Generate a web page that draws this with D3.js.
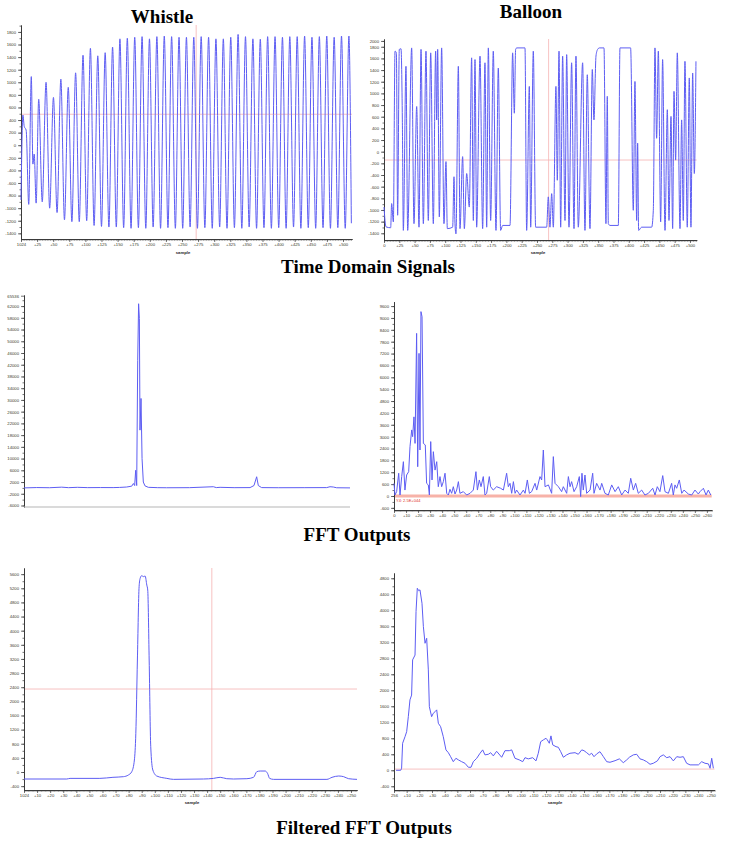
<!DOCTYPE html>
<html><head><meta charset="utf-8">
<script src="https://cdn.jsdelivr.net/npm/d3@7/dist/d3.min.js"></script>
<style>body{margin:0;background:#fff}svg{display:block}</style>
</head><body><svg id="c" width="730" height="856"></svg>
<script>
// ---------------- DATA ----------------
const titles = ["Whistle", "Balloon"];
const rowTitles = ["Time Domain Signals", "FFT Outputs", "Filtered FFT Outputs"];

// time-domain: [sample, amplitude] turning points
const whistleTime = [[0,-870],[3,480],[5,300],[8,240],[12,-940],[16,1090],[18.5,-300],[20.5,-140],[23.5,-920],[27.5,730],[33,-900],[38.9,1000],[44.5,-1000],[50.4,760],[56,-1070],[61.9,1050],[67.5,-1185],[73.4,920],[79,-1215],[84.8,1150],[90.5,-1215],[96.3,1430],[102,-1200],[107.8,1540],[113.5,-1275],[119.2,1420],[125,-1290],[130.7,1470],[136.5,-1300],[142.2,1560],[148,-1300],[153.6,1690],[159.4,-1310],[165.1,1700],[170.9,-1320],[176.6,1715],[182.3,-1310],[188,1725],[193.8,-1320],[199.5,1690],[205.2,-1300],[211,1725],[216.7,-1320],[222.5,1735],[228.2,-1310],[233.9,1725],[239.7,-1320],[245.4,1715],[251.1,-1320],[256.9,1715],[262.6,-1300],[268.3,1715],[274,-1320],[279.8,1725],[285.5,-1310],[291.3,1715],[297,-1320],[302.7,1690],[308.5,-1300],[314.2,1690],[319.9,-1320],[325.7,1715],[331.4,-1310],[337.1,1760],[342.9,-1320],[348.6,1725],[354.3,-1300],[360.1,1690],[365.8,-1320],[371.6,1685],[377.3,-1310],[383,1725],[388.8,-1320],[394.5,1725],[400.2,-1310],[406,1715],[411.7,-1320],[417.4,1725],[423.2,-1300],[428.9,1725],[434.6,-1320],[440.4,1735],[446.1,-1310],[451.8,1715],[457.6,-1320],[463.3,1725],[469,-1310],[474.8,1735],[480.5,-1320],[486.3,1715],[492,-1310],[497.7,1735],[503.5,-1320],[509.2,1735],[513,-1240]];

const balloonTime = [[0,-950],[3.3,-1290],[10.9,-1305],[12.5,-890],[15.3,-1205],[18,1725],[20.2,1695],[22.3,-1090],[25,1755],[27.8,1765],[30,545],[31.6,-1350],[35.9,1465],[38.7,-1350],[45.2,1780],[49,-1235],[53.4,775],[57.2,-1295],[60.5,1755],[64.3,-1235],[68.6,1725],[72.4,-1180],[76.3,1695],[80.6,-1235],[84.4,1725],[86.1,545],[87.7,1755],[90.4,-1120],[94.2,1780],[98,-1235],[101.3,-170],[103.5,-1320],[112.2,-1295],[114.4,-430],[116,-1235],[117.6,-1410],[121.5,1465],[124.2,-1320],[128.5,-85],[131.3,-1320],[135.1,-375],[139.4,-950],[143.2,1610],[146,-1180],[148.7,1580],[151.4,-1295],[156.9,1640],[161.2,-1320],[165,1525],[167.8,-1295],[170.5,1780],[174.3,-1180],[178.6,1725],[183,-1350],[186.8,1435],[190.6,-1350],[193.9,-1265],[205.9,-1265],[210.2,1695],[213,660],[215.1,1755],[216.8,1780],[230.4,1780],[233.1,-1350],[237.5,1120],[239.7,-1295],[244,1725],[247.8,-1295],[265.8,-1295],[268.5,-775],[271.2,-1295],[274,-720],[276.7,-1295],[281,1120],[283.2,-490],[286,1725],[288.7,-1295],[291.9,1640],[295.8,-1180],[298.5,1665],[302.3,-1295],[306.6,1525],[310.5,-1320],[313.7,1640],[317.5,-1295],[324.6,1525],[328.4,-1350],[332.2,1320],[336.6,-1320],[340.4,1410],[343.1,545],[346.4,1640],[349.1,1755],[351.9,1780],[359.5,1780],[362.7,-1235],[364.9,950],[366.6,-1235],[369.3,-1265],[382.9,-1265],[385.6,1780],[403,1780],[407.4,-1005],[410.1,1205],[412.9,-1180],[414.5,145],[416.1,-1350],[421,-1295],[437.4,-1295],[440.1,-1005],[442.8,1780],[445.5,230],[448.3,1725],[452.1,-1205],[455.3,1580],[459.2,-1350],[463,720],[465.7,-1180],[469,605],[471.7,-1320],[473.9,1035],[476.6,-145],[479.3,1695],[483.7,-1320],[486.4,545],[489.1,-1180],[491.8,1550],[495.6,-1295],[498.9,1265],[501.6,-1295],[504.4,1350],[507.1,-375],[509.8,1550]];

// FFT outputs: [bin, magnitude]
const whistleFFT = [[0,0],[10,120],[20,60],[29.6,250],[35,80],[41.9,200],[50,90],[60,120],[70,100],[75,160],[80.6,300],[84.6,600],[85.9,1500],[86.9,800],[87.7,6000],[88.5,800],[89.3,43500],[90,62800],[90.6,57800],[91.1,19700],[91.9,30500],[92.7,10000],[93.7,2000],[95,700],[97.6,200],[105,80],[112,50],[130,80],[148.7,400],[151,100],[154,200],[165,80],[177.5,100],[180.6,800],[182.7,3800],[184,800],[186.6,100],[200,60],[220,80],[237.7,100],[240.3,400],[242.9,300],[245.5,50],[256,0]];

const balloonFFT = [[0,640],[0.8,50],[2.2,220],[3.9,1150],[5,50],[6.4,980],[7.8,1735],[9.1,300],[10.5,1060],[12.2,1230],[13.3,2500],[14.7,3340],[15.5,3000],[16.6,4000],[17.5,2660],[18.8,8220],[19.7,1480],[20.8,7210],[21.6,2325],[22.4,9320],[23.3,9065],[24.4,2660],[26,2580],[27.1,640],[28.5,560],[29.4,50],[30.5,2750],[31.6,810],[32.7,2240],[34.1,1310],[35.5,1735],[36.8,470],[38.2,980],[39.6,470],[41,725],[42.4,1150],[43.8,135],[45.2,50],[46.5,340],[47.9,135],[49.3,470],[50.7,100],[52.1,300],[53.5,725],[54.8,135],[57.6,220],[60.4,50],[63.2,135],[65.9,300],[68.1,1230],[69.3,300],[70.9,810],[72.3,470],[74.2,980],[75.6,50],[77,135],[79.2,980],[80.3,470],[82.5,300],[85.3,470],[88.6,390],[90.9,300],[93.6,1150],[95,470],[96.4,640],[97.8,135],[99.2,725],[100.6,135],[101.9,300],[104.7,50],[107.5,300],[108.9,135],[110.8,810],[112.5,135],[114.4,220],[117.2,640],[118.6,300],[121.3,980],[122.7,810],[124.1,2325],[125.5,470],[128.3,560],[131,135],[132.4,1990],[133.8,640],[136.6,470],[139.3,220],[140.7,470],[143.5,135],[144.9,980],[146.3,470],[147.6,725],[149.6,220],[151.8,470],[154,980],[155.1,-30],[156.2,1150],[157.3,300],[158.7,1060],[160.1,135],[162.9,300],[165.1,1150],[166.2,135],[168.4,640],[171.2,300],[172.6,640],[175.3,135],[178.1,50],[180.9,560],[183.7,220],[186.4,470],[189.2,50],[192,300],[194.7,135],[196.7,895],[198.9,300],[200.8,640],[203,135],[205.8,300],[208.5,50],[211.4,135],[215,390],[216.9,50],[218.8,470],[221,220],[223.3,1030],[225.2,220],[228,135],[230.7,640],[232.1,50],[233.5,560],[234.9,390],[237.1,810],[239.1,135],[241,300],[244.6,100],[247.4,50],[250.1,300],[252.9,100],[254.3,220],[257.1,390],[259.3,50],[261.2,300],[263.2,50]];

// filtered FFT outputs: [bin, magnitude]
const whistleFiltered = [[0,-198],[32.7,-198],[35.2,-180],[58,-180],[68,-150],[76,-132],[79.8,-85],[82.4,10],[84.4,340],[85.5,1094],[86.7,3170],[88,5245],[88.8,5480],[90,5557],[91.3,5530],[92.6,5547],[93.9,5290],[94.6,5150],[95.7,3170],[96.9,717],[98.5,57],[101.5,-113],[109.2,-180],[114.3,-208],[137.2,-198],[144.9,-180],[150,-150],[155,-189],[160.2,-198],[170.4,-189],[175.5,-150],[178,10],[180.6,28],[184.4,28],[186.2,-38],[187.8,-180],[190.8,-208],[231.6,-208],[235.5,-150],[240.6,-113],[244.4,-132],[248.2,-189],[254.6,-208]];

const balloonFiltered = [[1.6,0],[5.3,0],[6,50],[6.8,675],[8.7,840],[10,965],[11.3,1340],[12.6,1760],[13.9,1880],[14.7,2760],[16.6,2880],[17.4,3970],[18.4,4550],[19.5,4490],[20.5,4510],[22.1,4175],[23.2,3590],[24.5,3175],[25.8,3300],[27.1,2510],[27.9,1590],[29.7,1340],[31,1425],[32.6,1470],[33.7,1510],[35,1175],[36.8,1090],[38.9,840],[41,510],[42.9,440],[44.7,340],[46.8,215],[48.9,300],[50.8,260],[53.4,215],[56,175],[58.7,75],[60.8,75],[62.6,215],[65.3,300],[67.9,425],[70,510],[71.8,385],[74.5,400],[76.3,440],[78.4,360],[81,475],[85,325],[87.6,490],[91,490],[92.9,510],[95.5,300],[98.9,260],[101.6,215],[103.4,315],[106,285],[109.5,315],[112.1,235],[113.9,425],[115.8,715],[117.9,760],[120,800],[121,760],[122.6,675],[123.9,860],[125.3,635],[127.9,590],[129.7,575],[131.6,465],[133.7,325],[136.3,385],[138.9,425],[142.9,440],[145.5,400],[148.2,510],[150,490],[152.1,440],[154.2,385],[156,425],[157.9,340],[160,410],[162.6,465],[165.3,340],[167.9,215],[170.5,200],[174.5,240],[177.9,285],[181,190],[183.7,260],[185.8,325],[188.9,385],[191.6,400],[194.2,285],[196.8,260],[199.5,215],[202.1,150],[204.7,175],[207.9,235],[210,340],[212.6,385],[215.3,315],[217.9,340],[220.5,235],[223.2,340],[225.8,325],[228.4,340],[231,175],[233.7,135],[240.3,135],[242.9,215],[245.5,175],[248.2,160],[249.5,50],[250.8,300],[252.1,50]];

// tick values / labels
const timeYTicks = [-1400,-1200,-1000,-800,-600,-400,-200,0,200,400,600,800,1000,1200,1400,1600,1800];
const timeXTicks = [0,25,50,75,100,125,150,175,200,225,250,275,300,325,350,375,400,425,450,475,500];
const whistleFFTYTicks = [-6000,-2000,2000,6000,10000,14000,18000,22000,26000,30000,34000,38000,42000,46000,50000,54000,58000,62000,65536];
const balloonFFTYTicks = [-600,0,600,1200,1800,2400,3000,3600,4200,4800,5400,6000,6600,7200,7800,8400,9000,9600];
const balloonFFTXTicks = [0,10,20,30,40,50,60,70,80,90,100,110,120,130,140,150,160,170,180,190,200,210,220,230,240,250,260];
const whistleFiltYTicks = [-400,0,400,800,1200,1600,2000,2400,2800,3200,3600,4000,4400,4800,5200,5600];
const filtXTicks = [0,10,20,30,40,50,60,70,80,90,100,110,120,130,140,150,160,170,180,190,200,210,220,230,240,250];
const balloonFiltYTicks = [-400,0,400,800,1200,1600,2000,2400,2800,3200,3600,4000,4400,4800];

// cursor lines
const whistleCursor = {h: 492, v: 272};
const balloonCursor = {h: -143, v: 269};
const whistleFiltCursor = {h: 2349, v: 143.6};
const balloonFFTMarker = 0;
const balloonFiltMarker = 30;

// ---------------- DRAW ----------------
const svg = d3.select('#c');
const LINE = '#5d5df3';
const CURSOR = '#f5b3b3';
const FS = '4.2px';

function styleAxis(sel){
  sel.select('.domain').attr('stroke','#3a3a3a').attr('stroke-width',1);
  sel.selectAll('.tick line').attr('stroke','#3a3a3a').attr('stroke-width',0.7);
  sel.selectAll('.tick text').attr('fill','#3a3a2a').attr('font-size',FS)
    .attr('font-family','Liberation Sans, Arial, sans-serif');
}

function panel(o){
  const g = svg.append('g');
  const x = d3.scaleLinear().domain(o.xd).range(o.xr);
  const y = d3.scaleLinear().domain(o.yd).range(o.yr);

  if (o.hLine != null) g.append('line').attr('x1', o.xr[0]).attr('x2', o.xr[1])
    .attr('y1', y(o.hLine)).attr('y2', y(o.hLine))
    .attr('stroke', o.hColor || CURSOR).attr('stroke-width', o.hWidth || 0.8);
  if (o.vLine != null) g.append('line').attr('x1', x(o.vLine)).attr('x2', x(o.vLine))
    .attr('y1', o.yr[1]).attr('y2', o.yr[0]).attr('stroke', CURSOR).attr('stroke-width', 0.8);

  // y minor ticks
  const ys = o.yTicks;
  const step = ys[2]-ys[1];
  const minor = [];
  for (let v = ys[1]-step; v <= o.yd[1]; v += step/2) if (v >= o.yd[0]) minor.push(v);
  g.append('g').attr('transform', `translate(${o.xr[0]},0)`)
    .call(d3.axisLeft(y).tickValues(minor).tickSize(1.5).tickSizeOuter(0).tickFormat(''))
    .call(styleAxis);
  g.append('g').attr('transform', `translate(${o.xr[0]},0)`)
    .call(d3.axisLeft(y).tickValues(o.yTicks).tickSize(3).tickSizeOuter(0).tickPadding(2)
      .tickFormat(o.yFmt || (d => d)))
    .call(styleAxis);

  if (o.xTicks){
    const xm = [];
    for (let v = o.xd[0]; v <= o.xd[1]; v += o.xMinorStep) xm.push(v);
    g.append('g').attr('transform', `translate(0,${o.yr[0]})`)
      .call(d3.axisBottom(x).tickValues(xm).tickSize(1.6).tickSizeOuter(0).tickFormat(''))
      .call(styleAxis);
    g.append('g').attr('transform', `translate(0,${o.yr[0]})`)
      .call(d3.axisBottom(x).tickValues(o.xTicks).tickSize(3).tickSizeOuter(0).tickPadding(1.5)
        .tickFormat(o.xFmt))
      .call(styleAxis);
    if (o.sampleLabel) g.append('text').attr('x', o.sampleLabel[0]).attr('y', o.sampleLabel[1])
      .attr('text-anchor','middle').attr('font-size',FS).attr('font-weight','bold')
      .attr('font-family','Liberation Sans, Arial, sans-serif').attr('fill','#222').text('sample');
  } else {
    g.append('line').attr('x1', o.xr[0]).attr('x2', o.xr[1]).attr('y1', o.yr[0]).attr('y2', o.yr[0])
      .attr('stroke', '#b5b5b5').attr('stroke-width', 1);
  }

  g.append('path').datum(o.data).attr('fill','none').attr('stroke', LINE)
    .attr('stroke-width', o.sw || 1).attr('stroke-linejoin','round')
    .attr('d', d3.line().x(d => x(d[0])).y(d => y(d[1])).curve(o.curve || d3.curveLinear));
  return {g, x, y};
}

// Time domain: Whistle
panel({xd:[0,514], xr:[21,352], yd:[-1490,1910], yr:[239,25],
  yTicks: timeYTicks, xTicks: timeXTicks, xMinorStep: 2.5,
  xFmt: d => d === 0 ? '1024' : '+' + d,
  hLine: whistleCursor.h, vLine: whistleCursor.v,
  data: whistleTime, curve: d3.curveMonotoneX, sampleLabel:[183,253.5]});

// Time domain: Balloon
panel({xd:[0,511], xr:[384,696.7], yd:[-1515,1933], yr:[240,39],
  yTicks: timeYTicks.concat([1900]), yFmt: d => d === 1900 ? '2000' : d,
  xTicks: timeXTicks, xMinorStep: 2.5,
  xFmt: d => d === 0 ? '0' : '+' + d,
  hLine: balloonCursor.h, vLine: balloonCursor.v,
  data: balloonTime, curve: d3.curveMonotoneX, sampleLabel:[538,254]});

// FFT: Whistle
panel({xd:[0,256], xr:[24,350], yd:[-6513,65780], yr:[507,295],
  yTicks: whistleFFTYTicks, data: whistleFFT});

// FFT: Balloon
const p4 = panel({xd:[0,264], xr:[394,711.7], yd:[-708,9822], yr:[510,301.7],
  yTicks: balloonFFTYTicks, xTicks: balloonFFTXTicks, xMinorStep: 1,
  xFmt: d => d === 0 ? '0' : '+' + d,
  hLine: balloonFFTMarker, hColor:'#f7b2a8', hWidth: 3,
  data: balloonFFT});
p4.g.append('text').attr('x', 396).attr('y', 502).attr('font-size','4px')
  .attr('font-family','Liberation Sans, Arial, sans-serif').attr('fill','#e0301e').text('Y4: 2.5E+044');

// Filtered: Whistle
panel({xd:[0,254.6], xr:[24,357], yd:[-509,5774], yr:[790,568],
  yTicks: whistleFiltYTicks, xTicks: filtXTicks, xMinorStep: 1,
  xFmt: d => d === 0 ? '1024' : '+' + d,
  hLine: whistleFiltCursor.h, vLine: whistleFiltCursor.v,
  data: whistleFiltered, curve: d3.curveMonotoneX, sampleLabel:[192,803.5]});

// Filtered: Balloon
panel({xd:[0,253], xr:[394,714.5], yd:[-493,4932], yr:[790,573],
  yTicks: balloonFiltYTicks, xTicks: filtXTicks, xMinorStep: 1,
  xFmt: d => d === 0 ? '256' : '+' + d,
  hLine: balloonFiltMarker,
  data: balloonFiltered, sampleLabel:[555,804]});

// titles
const tf = 'Liberation Serif, Times New Roman, serif';
function title(t, x, y){
  svg.append('text').attr('x', x).attr('y', y).attr('text-anchor','middle')
    .attr('font-family', tf).attr('font-weight','bold').attr('font-size','19px')
    .attr('fill','#000').text(t);
}
title(titles[0], 162, 23);
title(titles[1], 531, 18);
title(rowTitles[0], 368, 273);
title(rowTitles[1], 357, 541);
title(rowTitles[2], 364, 834);
</script>
</body></html>
